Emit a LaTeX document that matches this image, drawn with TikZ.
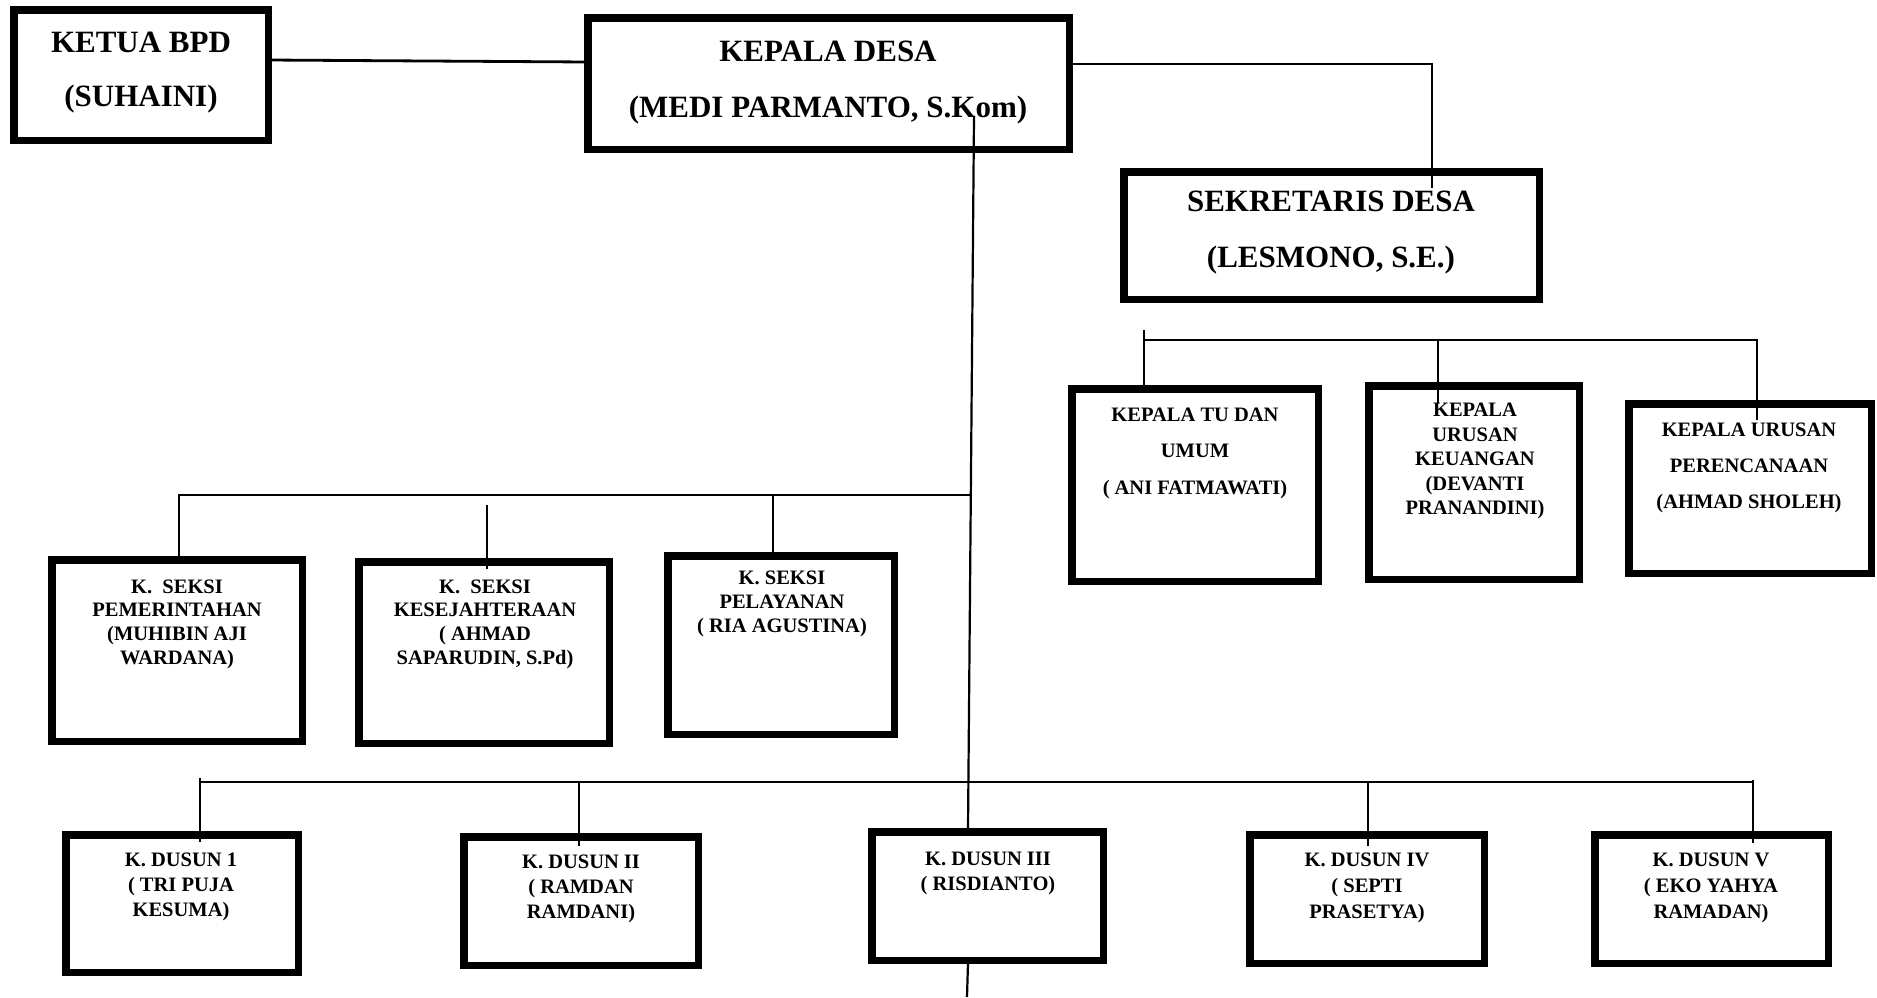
\documentclass[tikz,border=0pt]{standalone}
\usepackage{fontspec}
\setmainfont{Liberation Serif}
\newcommand\orgbox[5]{\node[box, minimum width={#4-#2-7.5}, minimum height={#5-#3-7.5}] (#1) at ({(#2+#4)/2},{(#3+#5)/2}) {};}
\begin{document}
\begin{tikzpicture}[x=1pt,y=-1pt,
 box/.style={draw=black, line width=7.5pt, fill=white, inner sep=0pt, outer sep=0pt},
 big/.style={font=\fontsize{31}{56}\selectfont\bfseries, align=center, inner sep=0pt},
 small/.style={font=\fontsize{20.5}{24.5}\selectfont\bfseries, align=center, inner sep=0pt},
 smallwide/.style={font=\fontsize{20.5}{36.5}\selectfont\bfseries, align=center, inner sep=0pt},
 conn/.style={line width=2.2pt, draw=black}]
\useasboundingbox[fill=white] (0,0) rectangle (1877,997);

% boxes
\orgbox{ketua}{10}{6}{272}{144}
\orgbox{kepala}{584}{14}{1073}{153}
\orgbox{sekret}{1120}{168}{1543}{303}
\orgbox{tu}{1068}{385}{1322}{585}
\orgbox{keu}{1365}{382}{1583}{583}
\orgbox{per}{1625}{400}{1875}{577}
\orgbox{sa}{48}{556}{306}{745}
\orgbox{sb}{355}{558}{613}{747}
\orgbox{sc}{664}{552}{898}{738}
\orgbox{da}{62}{831}{302}{976}
\orgbox{db}{460}{833}{702}{969}
\orgbox{dc}{868}{828}{1107}{964}
\orgbox{dd}{1246}{831}{1488}{967}
\orgbox{de}{1591}{831}{1832}{967}

% texts
\node[big, font=\fontsize{31}{54}\selectfont\bfseries] (ketuat) at (141,73) {KETUA BPD\\(SUHAINI)};
\node[big] (kepalat) at (828,83) {KEPALA DESA\\(MEDI PARMANTO, S.Kom)};
\node[big] (sekrett) at (1331,233) {SEKRETARIS DESA\\(LESMONO, S.E.)};
\node[smallwide] (tut) at (1195,453) {KEPALA TU DAN\\UMUM\\( ANI FATMAWATI)};
\node[small] (keut) at (1475,461) {KEPALA\\URUSAN\\KEUANGAN\\(DEVANTI\\PRANANDINI)};
\node[smallwide, font=\fontsize{20.5}{36}\selectfont\bfseries] (pert) at (1749,468) {KEPALA URUSAN\\PERENCANAAN\\(AHMAD SHOLEH)};
\node[small, font=\fontsize{20.5}{23.7}\selectfont\bfseries] (sat) at (177,624) {K.\ \ SEKSI\\PEMERINTAHAN\\(MUHIBIN AJI\\WARDANA)};
\node[small, font=\fontsize{20.5}{23.7}\selectfont\bfseries] (sbt) at (485,624) {K.\ \ SEKSI\\KESEJAHTERAAN\\( AHMAD\\SAPARUDIN, S.Pd)};
\node[small, font=\fontsize{20.5}{23.7}\selectfont\bfseries] (sct) at (782,604) {K. SEKSI\\PELAYANAN\\( RIA AGUSTINA)};
\node[small, font=\fontsize{20.5}{25}\selectfont\bfseries] (dat) at (181,887) {K. DUSUN 1\\( TRI PUJA\\KESUMA)};
\node[small, font=\fontsize{20.5}{25}\selectfont\bfseries] (dbt) at (581,889) {K. DUSUN II\\( RAMDAN\\RAMDANI)};
\node[small, font=\fontsize{20.5}{25}\selectfont\bfseries] (dct) at (988,873) {K. DUSUN III\\( RISDIANTO)};
\node[small, font=\fontsize{20.5}{26}\selectfont\bfseries] (ddt) at (1367,888) {K. DUSUN IV\\( SEPTI\\PRASETYA)};
\node[small, font=\fontsize{20.5}{26}\selectfont\bfseries] (det) at (1711,888) {K. DUSUN V\\( EKO YAHYA\\RAMADAN)};

% coordinates for free ends
\coordinate (sekin) at (1432,188);
\coordinate (vtop) at (974,116);
\coordinate (vdc) at (968,829);
\coordinate (vdcb) at (968,963);
\coordinate (vbot) at (967,997);
\coordinate (sbarR) at (971,495);
\coordinate (sain) at (179,556);
\coordinate (sbtop) at (487,505);
\coordinate (sbin) at (487,569);
\coordinate (scin) at (773,559);
\coordinate (datop) at (200,778);
\coordinate (dain) at (200,842);
\coordinate (dbarR) at (1753,782);
\coordinate (dbin) at (579,846);
\coordinate (ddin) at (1368,846);
\coordinate (detop) at (1753,780);
\coordinate (dein) at (1753,843);
\coordinate (tutop) at (1144,330);
\coordinate (tuin) at (1144,392);
\coordinate (kbarR) at (1758,340);
\coordinate (keuin) at (1438,403);
\coordinate (perin) at (1757,420);

% connectors
\draw[conn, line width=2.8pt] ([yshift=15pt]ketua.east) -- ([yshift=21.5pt]kepala.west);
\draw[conn] ([yshift=19.5pt]kepala.east) -| (sekin);
\draw[conn] (vtop) -- (vdc);
\draw[conn] (vdcb) -- (vbot);
\draw[conn] (sain) |- (sbarR);
\draw[conn] (sbtop) -- (sbin);
\draw[conn] (scin) -- (scin |- sbarR);
\draw[conn] (datop) -- (dain);
\draw[conn] (datop |- dbarR) -- (dbarR);
\draw[conn] (dbin) -- (dbin |- dbarR);
\draw[conn] (ddin) -- (ddin |- dbarR);
\draw[conn] (detop) -- (dein);
\draw[conn] (tutop) -- (tuin);
\draw[conn] (tutop |- kbarR) -- (kbarR);
\draw[conn] (keuin) -- (keuin |- kbarR);
\draw[conn] (perin) -- (perin |- kbarR);
\end{tikzpicture}
\end{document}
